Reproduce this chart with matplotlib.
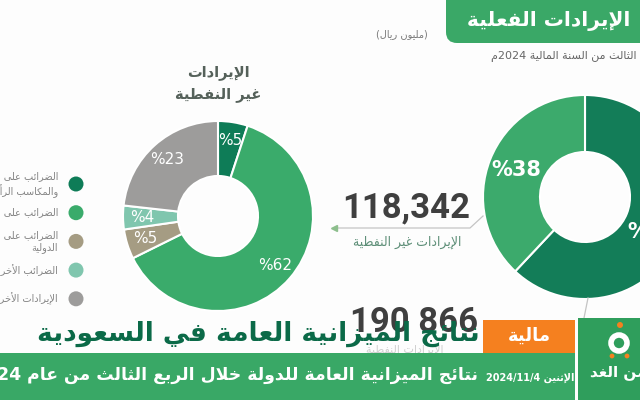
import re
import matplotlib
matplotlib.use('Agg')
import matplotlib.pyplot as plt
from matplotlib.patches import Rectangle, FancyBboxPatch, Circle

plt.rcParams['font.family'] = ['DejaVu Sans']

# ---- data ----
nonoil_labels = ['الضرائب على الدخل والأرباح\nوالمكاسب الرأسمالية',
                 'الضرائب على السلع والخدمات',
                 'الضرائب على التجارة والمعاملات\nالدولية',
                 'الضرائب الأخرى',
                 'الإيرادات الأخرى']
nonoil_pct = [5, 62, 5, 4, 23]
nonoil_colors = ['#0e7c57', '#3aab6b', '#a59c83', '#80c6ae', '#9d9c9b']

total_labels = ['الإيرادات النفطية', 'الإيرادات غير النفطية']
total_pct = [62, 38]
total_colors = ['#137d58', '#3caa6c']

nonoil_value = '118,342'
oil_value = '190 866'

# ---- minimal arabic shaping (presentation forms + visual order) ----
DUAL = dict(zip('بتثجحخسشصضطظعغفقكلمنهيئ',
                [0xFE8F, 0xFE95, 0xFE99, 0xFE9D, 0xFEA1, 0xFEA5, 0xFEB1, 0xFEB5,
                 0xFEB9, 0xFEBD, 0xFEC1, 0xFEC5, 0xFEC9, 0xFECD, 0xFED1, 0xFED5,
                 0xFED9, 0xFEDD, 0xFEE1, 0xFEE5, 0xFEE9, 0xFEF1, 0xFE89]))
RIGHT = dict(zip('آأؤإاةدذرزوى',
                 [0xFE81, 0xFE83, 0xFE85, 0xFE87, 0xFE8D, 0xFE93, 0xFEA9, 0xFEAB,
                  0xFEAD, 0xFEAF, 0xFEED, 0xFEEF]))
LAMALEF = {'آ': 0xFEF5, 'أ': 0xFEF7, 'إ': 0xFEF9, 'ا': 0xFEFB}
MIRROR = str.maketrans('()', ')(')


def shape(s):
    res = []
    i = 0
    while i < len(s):
        c = s[i]
        prev_joins = i > 0 and s[i-1] in DUAL
        nxt = s[i+1] if i + 1 < len(s) else ''
        if c == 'ل' and nxt in LAMALEF:
            res.append(chr(LAMALEF[nxt] + (1 if prev_joins else 0)))
            i += 2
            continue
        if c in DUAL:
            next_joins = nxt in DUAL or nxt in RIGHT
            form = {(False, False): 0, (True, False): 1,
                    (False, True): 2, (True, True): 3}[(prev_joins, next_joins)]
            res.append(chr(DUAL[c] + form))
        elif c in RIGHT:
            res.append(chr(RIGHT[c] + (1 if prev_joins else 0)))
        elif c == 'ء':
            res.append(chr(0xFE80))
        else:
            res.append(c)
        i += 1
    return ''.join(res)


def ar(text):
    lines = []
    for line in text.split('\n'):
        runs = [r for r in re.split(r'([0-9][0-9/,.]*)', shape(line)) if r]
        lines.append(''.join(r if r[0].isdigit() else r[::-1].translate(MIRROR)
                             for r in reversed(runs)))
    return '\n'.join(lines)


def Y(y):
    return 400 - y


fig = plt.figure(figsize=(6.4, 4), dpi=100)
fig.patch.set_facecolor('#fdfdfd')
ax = fig.add_axes([0, 0, 1, 1])

# left donut: non-oil revenue breakdown
s1 = sum(nonoil_pct)
ax.pie(nonoil_pct, colors=nonoil_colors, startangle=90, counterclock=False,
       center=(218, Y(216)), radius=95,
       wedgeprops=dict(width=55, edgecolor='white', linewidth=1.5),
       autopct=lambda p: '%' + f'{p * s1 / 100:.0f}', pctdistance=0.8,
       textprops=dict(color='white', fontsize=11))

# right donut: total revenue
s2 = sum(total_pct)
wedges, _, pcts = ax.pie(total_pct, colors=total_colors, startangle=90, counterclock=False,
                         center=(585, Y(197)), radius=102,
                         wedgeprops=dict(width=57, edgecolor='white', linewidth=1.5),
                         autopct=lambda p: '%' + f'{p * s2 / 100:.0f}', pctdistance=0.72,
                         textprops=dict(color='white', fontsize=15, fontweight='bold'))
pcts[0].set_position((652, Y(232)))

ax.set_xlim(0, 640)
ax.set_ylim(0, 400)
ax.set_aspect('auto')
ax.axis('off')

# top banner
ax.add_patch(FancyBboxPatch((446, Y(43)), 220, 60, boxstyle='round,pad=0,rounding_size=11',
                            fc='#3aa867', ec='none', zorder=3))
ax.text(630, Y(21), ar('الإيرادات الفعلية'), ha='right', va='center', color='white',
        fontsize=14.5, fontweight='bold', zorder=4)
ax.text(402, Y(34), ar('(مليون ريال)'), ha='center', va='center', color='#7a7a7a', fontsize=7)
ax.text(662, Y(57), ar('للربع الثالث من السنة المالية 2024م'), ha='right', va='center',
        color='#666666', fontsize=8)

# left donut title
ax.text(218, Y(72), ar('الإيرادات'), ha='center', va='center', color='#55615a',
        fontsize=10.5, fontweight='bold')
ax.text(218, Y(94), ar('غير النفطية'), ha='center', va='center', color='#55615a',
        fontsize=10.5, fontweight='bold')

# legend
for i, (lab, col) in enumerate(zip(nonoil_labels, nonoil_colors)):
    yy = Y(184 + i * 28.7)
    ax.add_patch(Circle((76, yy), 7.5, fc=col, ec='none'))
    ax.text(58, yy, ar(lab), ha='right', va='center', color='#858585', fontsize=7,
            multialignment='right', linespacing=1.15)

# non-oil value with pointer
ax.plot([334, 470, 483], [Y(228), Y(228), Y(216)], color='#c4c4c4', lw=0.9)
ax.plot([334], [Y(228)], marker='<', color='#8dbf8d', ms=4)
ax.text(406, Y(208), nonoil_value, ha='center', va='center', family='Roboto',
        fontweight='bold', fontsize=25, color='#3f3f3f')
ax.text(407, Y(242), ar(total_labels[1]), ha='center', va='center', color='#5e8f78', fontsize=9)

# oil value (partly hidden by the headline, as in the original)
ax.plot([588, 584], [Y(298), Y(318)], color='#c4c4c4', lw=0.9)
ax.text(414, Y(322), oil_value, ha='center', va='center', family='Roboto',
        fontweight='bold', fontsize=25, color='#3f3f3f')
ax.text(405, Y(350), ar(total_labels[0]), ha='center', va='center', color='#d0d0d0', fontsize=8)

# headline
ax.text(480, Y(334), ar('نتائج الميزانية العامة في السعودية'), ha='right', va='center',
        color='#0b6a48', fontsize=19, fontweight='bold', zorder=5)

# bottom band
ax.add_patch(Rectangle((0, 0), 575, Y(353), fc='#39a866', ec='none', zorder=4))
ax.text(478, Y(375), ar('نتائج الميزانية العامة للدولة خلال الربع الثالث من عام 2024'),
        ha='right', va='center', color='white', fontsize=12.4, fontweight='bold', zorder=5)
ax.text(530, Y(378), ar('الإثنين 2024/11/4'), ha='center', va='center', color='white',
        fontsize=7, fontweight='bold', zorder=5)

# category tag
ax.add_patch(Rectangle((483, Y(353)), 92, 33, fc='#f5801f', ec='none', zorder=4))
ax.text(529, Y(336), ar('مالية'), ha='center', va='center', color='white',
        fontsize=13, fontweight='bold', zorder=5)

# logo box
ax.add_patch(Rectangle((578, 0), 70, Y(318), fc='#2f9e5c', ec='none', zorder=4))
ax.add_patch(Circle((620, Y(325)), 3, fc='#f5801f', ec='none', zorder=5))
ax.add_patch(Circle((619, Y(343)), 8, fc='none', ec='white', lw=4, zorder=5))
ax.add_patch(Circle((612, Y(356)), 2.4, fc='#f5801f', ec='none', zorder=5))
ax.add_patch(Circle((627, Y(356)), 2.4, fc='#f5801f', ec='none', zorder=5))
ax.text(646, Y(372), ar('من الغد'), ha='right', va='center', color='white',
        fontsize=11, fontweight='bold', zorder=5)

fig.savefig('out.png', dpi=100, facecolor=fig.get_facecolor())
